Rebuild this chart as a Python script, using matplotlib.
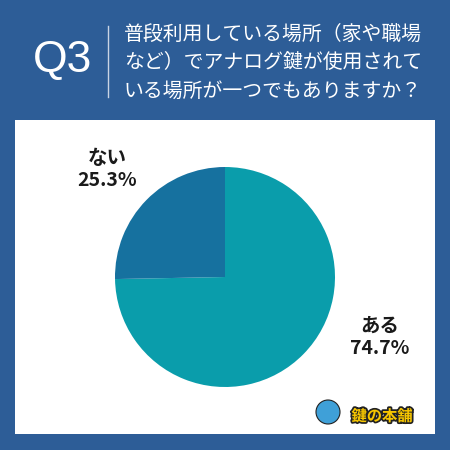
import matplotlib
matplotlib.use("Agg")
import matplotlib.pyplot as plt
from matplotlib.patches import Rectangle
import matplotlib.patheffects as pe

plt.rcParams['font.family'] = ['Noto Sans CJK JP', 'DejaVu Sans']

# 回答データ
answers = ["ある", "ない"]
shares = [74.7, 25.3]
slice_colors = ["#0a9dab", "#16719f"]

question_no = "Q3"
question_lines = [
    "普段利用している場所（家や職場",
    "など）でアナログ鍵が使用されて",
    "いる場所が一つでもありますか？",
]

bg_blue = "#2d5d97"
W = H = 450  # 出力サイズ(px)

fig = plt.figure(figsize=(4.5, 4.5), dpi=100, facecolor=bg_blue)

def fx(px):
    return px / W

def fy(py):
    return 1 - py / H

# 白いパネル
fig.patches.append(Rectangle((fx(15), fy(434)), fx(420), 314 / H,
                             transform=fig.transFigure, facecolor="white",
                             edgecolor="none", zorder=-1))

# ヘッダー
fig.text(fx(63), fy(61), question_no, color="white", fontsize=32,
         family=["Liberation Sans", "DejaVu Sans"], ha="center", va="center")
fig.add_artist(plt.Line2D([fx(108), fx(108)], [fy(26), fy(97)],
                          transform=fig.transFigure, color="#c9d4e4", lw=1))
for i, line in enumerate(question_lines):
    fig.text(fx(124), fy(34 + i * 28.5), line, color="white", fontsize=14.3,
             ha="left", va="center")

# 円グラフ
r = 110
cx, cy = 225, 277
ax = fig.add_axes([fx(cx - r), fy(cy + r), 2 * r / W, 2 * r / H], zorder=2)
ax.pie(shares, colors=slice_colors, startangle=90, counterclock=False,
       wedgeprops=dict(linewidth=0))
ax.set_xlim(-1, 1)
ax.set_ylim(-1, 1)
ax.set_aspect("equal")
ax.axis("off")

# ラベル
label_pos = {"ある": (380, 337), "ない": (107, 170)}
for name, val in zip(answers, shares):
    x, y = label_pos[name]
    fig.text(fx(x), fy(y), f"{name}\n{val}%", fontsize=14, fontweight="bold",
             color="#1a1a1a", ha="center", va="center", linespacing=1.2)

# ロゴ
fig.text(fx(382), fy(416), "鍵の本舗", fontsize=11, fontweight="bold",
         color="#f7c600", ha="center", va="center",
         path_effects=[pe.withStroke(linewidth=2.5, foreground="#222222")])
fig.patches.append(plt.Circle((fx(328), fy(412)), 12 / W,
                              transform=fig.transFigure, facecolor="#3fa0d8",
                              edgecolor="#222222", lw=0.8))

fig.savefig("out.png", dpi=100, facecolor=bg_blue)
